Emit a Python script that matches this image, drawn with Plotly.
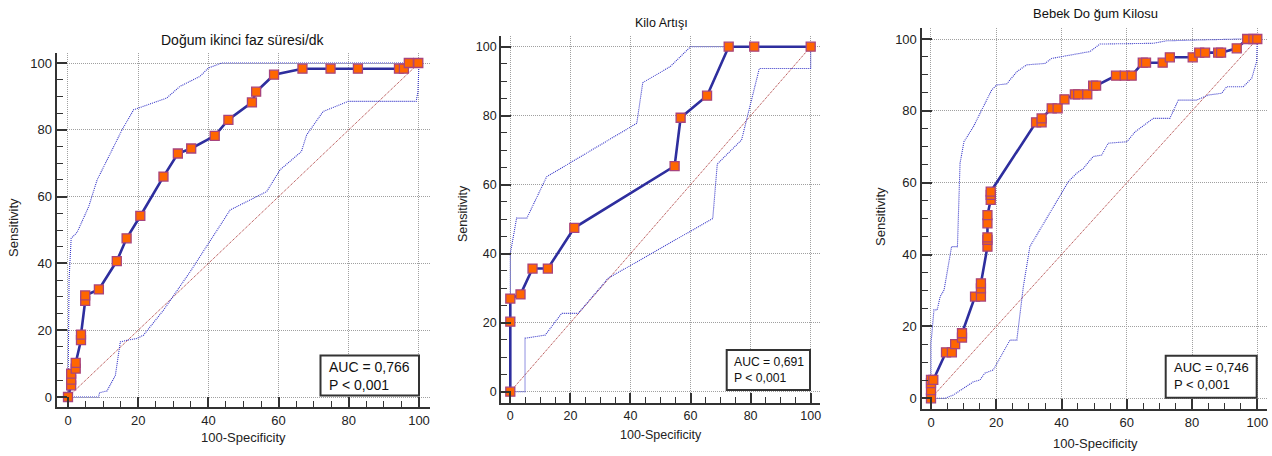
import plotly.graph_objects as go

W, H = 1272, 456

# ---------------- Data ----------------
titles = ["Doğum ikinci faz süresi/dk", "Kilo Artışı", "Bebek Do ğum Kilosu"]
auc_texts = ["AUC = 0,766<br>P < 0,001", "AUC = 0,691<br>P < 0,001", "AUC = 0,746<br>P < 0,001"]
tick_vals = [0, 20, 40, 60, 80, 100]

roc1_x = [0, 0.9, 0.9, 0.9, 2.2, 2.2, 3.7, 3.7, 4.9, 4.9, 8.8, 13.9, 16.7, 20.6, 27.2, 31.3, 35.1,
          41.8, 45.7, 52.4, 53.6, 58.7, 66.8, 74.8, 82.6, 94.3, 95.7, 97.1, 99.8]
roc1_y = [0, 3.5, 5.2, 7.0, 8.5, 10.2, 17.0, 18.7, 28.8, 30.4, 32.2, 40.7, 47.5, 54.2, 66.0, 72.9, 74.4,
          78.2, 83.0, 88.2, 91.4, 96.5, 98.3, 98.3, 98.3, 98.3, 98.3, 100, 100]
up1_x = [0, 0.3, 0.9, 2.6, 5.9, 8.3, 12.1, 15.4, 18.7, 28.1, 31.9, 37.6, 40.0, 43.8, 100]
up1_y = [0, 35, 47.5, 49.3, 57, 65, 73, 80, 86, 89.5, 93, 96, 98.5, 100, 100]
lo1_x = [0, 8.7, 9.0, 11.1, 13.5, 14.9, 16.8, 19.6, 21.5, 27.2, 34.8, 39.5, 46.2, 56.6, 60.4, 66.5,
         68.0, 72.7, 79.8, 99.2, 99.7, 100]
lo1_y = [0, 0, 1.3, 1.8, 6.5, 16.5, 17.0, 17.5, 18.5, 26, 37.5, 45, 56, 61.5, 68, 73.5,
         78.5, 85.5, 88.5, 88.5, 91.5, 100]

roc2_x = [0, 0, 0, 3.4, 7.4, 12.5, 21.3, 54.7, 56.7, 65.5, 72.7, 81.2, 100]
roc2_y = [0, 20.3, 27.0, 28.2, 35.7, 35.7, 47.5, 65.4, 79.4, 85.8, 100, 100, 100]
up2_x = [0, 0, 2.1, 5.5, 12.1, 42.1, 44.1, 53.2, 60.0, 100]
up2_y = [0, 40, 50.3, 50.3, 62.3, 77.8, 89.6, 94.2, 100, 100]
lo2_x = [0, 4.9, 4.9, 11.6, 17.1, 22.6, 32.6, 67.4, 68.9, 77.0, 82.9, 100, 100]
lo2_y = [0, 0, 15.5, 16.4, 22.7, 22.7, 32.9, 50.2, 66.0, 73.0, 93.7, 93.7, 100]

roc3_x = [0, 0, 0, 0, 0.7, 4.6, 6.4, 7.4, 9.5, 9.5, 13.5, 15.3, 15.3, 15.3, 17.3, 17.3, 17.3,
          17.3, 17.3, 18.3, 18.3, 18.3, 32.2, 33.9, 33.9, 37.0, 38.8, 40.9, 44.1, 45.1, 47.9,
          49.7, 50.6, 56.7, 59.4, 61.5, 64.9, 65.9, 71.0, 73.2, 80.2, 82.2, 84.0, 88.0, 88.9,
          93.7, 96.9, 98.8, 100]
roc3_y = [0, 2.3, 4.2, 5.1, 5.1, 12.8, 12.8, 15.1, 16.9, 18.1, 28.3, 28.3, 30.6, 32.0, 42.2, 44.1, 44.8,
          48.7, 51.0, 55.2, 56.6, 57.5, 76.8, 76.8, 77.9, 80.7, 80.7, 83.2, 84.6, 84.6, 84.6,
          87.0, 87.0, 89.8, 89.8, 89.8, 93.4, 93.4, 93.4, 94.9, 94.9, 96.2, 96.2, 96.2, 96.2,
          97.4, 100, 100, 100]
up3_x = [0, 0, 0.9, 1.9, 2.8, 4.0, 6.3, 8.1, 8.9, 10.1, 13.0, 18.6, 20.1, 23.2, 26.3, 29.3, 34.9,
         37.0, 48.7, 51.8, 68.1, 72.2, 94.7, 100]
up3_y = [0, 15.3, 24.6, 24.6, 28.3, 30.1, 42.2, 42.2, 65.4, 71.4, 75.6, 85.8, 87.2, 87.5, 90.9, 92.8, 93.2,
         94.6, 96.5, 98.6, 98.8, 99.5, 100, 100]
lo3_x = [0, 4.3, 6.8, 13.0, 15.0, 16.5, 19.1, 24.2, 26.3, 28.3, 30.3, 34.9, 42.1, 44.6, 46.7, 49.7,
         52.3, 54.3, 60.0, 62.6, 68.1, 73.2, 75.8, 81.4, 85.0, 89.1, 90.6, 95.7, 98.3, 99.8, 100]
lo3_y = [0, 0, 0.9, 4.6, 5.1, 7.0, 7.9, 16.2, 16.2, 31.1, 42.2, 49.2, 60.3, 62.6, 64.0, 67.3,
         67.7, 71.0, 71.4, 74.2, 77.9, 77.9, 83.0, 83.0, 84.4, 84.9, 86.7, 86.7, 89.1, 93.7, 100]

diag = [0, 100]

panels = [
    dict(roc=(roc1_x, roc1_y), up=(up1_x, up1_y), lo=(lo1_x, lo1_y)),
    dict(roc=(roc2_x, roc2_y), up=(up2_x, up2_y), lo=(lo2_x, lo2_y)),
    dict(roc=(roc3_x, roc3_y), up=(up3_x, up3_y), lo=(lo3_x, lo3_y)),
]

# ---------------- Layout geometry (pixels) ----------------
geo = [
    dict(x0=68.0, xs=3.51, xr=[-3.2, 103.2], y0=397.0, ys=3.34, yr=[-3.0, 103.0]),
    dict(x0=510.3, xs=3.004, xr=[-3.0, 103.0], y0=391.7, ys=3.45, yr=[-3.2, 103.1]),
    dict(x0=931.0, xs=3.263, xr=[-2.9, 103.0], y0=398.3, ys=3.593, yr=[-3.0, 103.0]),
]
title_pos = [(243, 40), (661, 23), (1095, 14)]
title_sizes = [14, 12.5, 13]
xtitle_pos = [(243, 437), (661, 435), (1095, 443)]
ytitle_pos = [(13, 228), (463, 214), (880, 217)]
box_px = [(320.5, 355.5, 419, 395.5), (726.7, 350, 810, 390), (1165.7, 355.7, 1256.7, 397.7)]
box_text_px = [(326.5, 375.5), (732.3, 370), (1171.7, 375.5)]
box_font = [14, 12.2, 13]
font_sizes = [13, 12.5, 13]

FONT = "Liberation Sans, Arial, sans-serif"
ROC_COLOR = "#2e2e9e"
CI_COLOR = "#3535c8"
DIAG_COLOR = "#a52a2a"
FINE_DOT = "1px,1px"


def px2fx(px):
    return px / W


def px2fy(py):
    return 1 - py / H


fig = go.Figure()
annotations = []
shapes = []

for i, (p, g) in enumerate(zip(panels, geo)):
    sfx = "" if i == 0 else str(i + 1)
    xa, ya = "x" + sfx, "y" + sfx
    fig.add_trace(go.Scatter(x=diag, y=diag, mode="lines", xaxis=xa, yaxis=ya,
                             line=dict(color=DIAG_COLOR, width=1, dash=FINE_DOT),
                             showlegend=False, hoverinfo="skip"))
    for key in ("up", "lo"):
        fig.add_trace(go.Scatter(x=p[key][0], y=p[key][1], mode="lines", xaxis=xa, yaxis=ya,
                                 line=dict(color=CI_COLOR, width=1.1, dash=FINE_DOT),
                                 showlegend=False, hoverinfo="skip"))
    fig.add_trace(go.Scatter(x=p["roc"][0], y=p["roc"][1], mode="lines+markers", xaxis=xa, yaxis=ya,
                             line=dict(color=ROC_COLOR, width=2.6),
                             marker=dict(symbol="square", size=9, color="#ff6600",
                                         line=dict(color="#a8447e", width=1.3)),
                             showlegend=False))

    left = g["x0"] + g["xr"][0] * g["xs"]
    right = g["x0"] + g["xr"][1] * g["xs"]
    bottom = g["y0"] - g["yr"][0] * g["ys"]
    top = g["y0"] - g["yr"][1] * g["ys"]
    fs = font_sizes[i]
    axis_common = dict(
        tickvals=tick_vals, showline=True, linecolor="#333333", linewidth=2.2,
        ticks="inside", ticklen=10, tickwidth=2, tickcolor="#333333",
        minor=dict(dtick=5, tick0=0, ticks="inside", ticklen=6, tickwidth=1.3,
                   tickcolor="#333333", showgrid=False),
        showgrid=True, gridcolor="#a0a0a0", griddash=FINE_DOT, gridwidth=1,
        zeroline=False, tickfont=dict(family=FONT, size=fs, color="#222222"),
        fixedrange=True, automargin=False,
    )
    fig.update_layout(**{
        "xaxis" + sfx: dict(axis_common, range=g["xr"], domain=[px2fx(left), px2fx(right)],
                            anchor=ya),
        "yaxis" + sfx: dict(axis_common, range=g["yr"], domain=[px2fy(bottom), px2fy(top)],
                            anchor=xa),
    })

    tx, ty = title_pos[i]
    annotations.append(dict(text=titles[i], x=px2fx(tx), y=px2fy(ty), xref="paper", yref="paper",
                            showarrow=False, xanchor="center", yanchor="middle",
                            font=dict(family=FONT, size=title_sizes[i], color="#111111")))
    tx, ty = xtitle_pos[i]
    annotations.append(dict(text="100-Specificity", x=px2fx(tx), y=px2fy(ty), xref="paper", yref="paper",
                            showarrow=False, xanchor="center", yanchor="middle",
                            font=dict(family=FONT, size=fs, color="#222222")))
    tx, ty = ytitle_pos[i]
    annotations.append(dict(text="Sensitivity", x=px2fx(tx), y=px2fy(ty), xref="paper", yref="paper",
                            showarrow=False, xanchor="center", yanchor="middle", textangle=-90,
                            font=dict(family=FONT, size=fs, color="#222222")))
    bx0, by0, bx1, by1 = box_px[i]
    shapes.append(dict(type="rect", xref="paper", yref="paper",
                       x0=px2fx(bx0), x1=px2fx(bx1), y0=px2fy(by1), y1=px2fy(by0),
                       line=dict(color="#333333", width=2), fillcolor="white", layer="above"))
    tx, ty = box_text_px[i]
    annotations.append(dict(text=auc_texts[i], x=px2fx(tx), y=px2fy(ty), xref="paper", yref="paper",
                            showarrow=False, xanchor="left", yanchor="middle", align="left",
                            font=dict(family=FONT, size=box_font[i], color="#111111")))

fig.update_layout(
    width=W, height=H, margin=dict(l=0, r=0, t=0, b=0, pad=0, autoexpand=False),
    paper_bgcolor="white", plot_bgcolor="white",
    annotations=annotations, shapes=shapes, showlegend=False,
)

fig.write_html(
    "out.html",
    config={"displayModeBar": False},
    post_script="document.body.style.margin='0';document.body.style.overflow='hidden';",
)
